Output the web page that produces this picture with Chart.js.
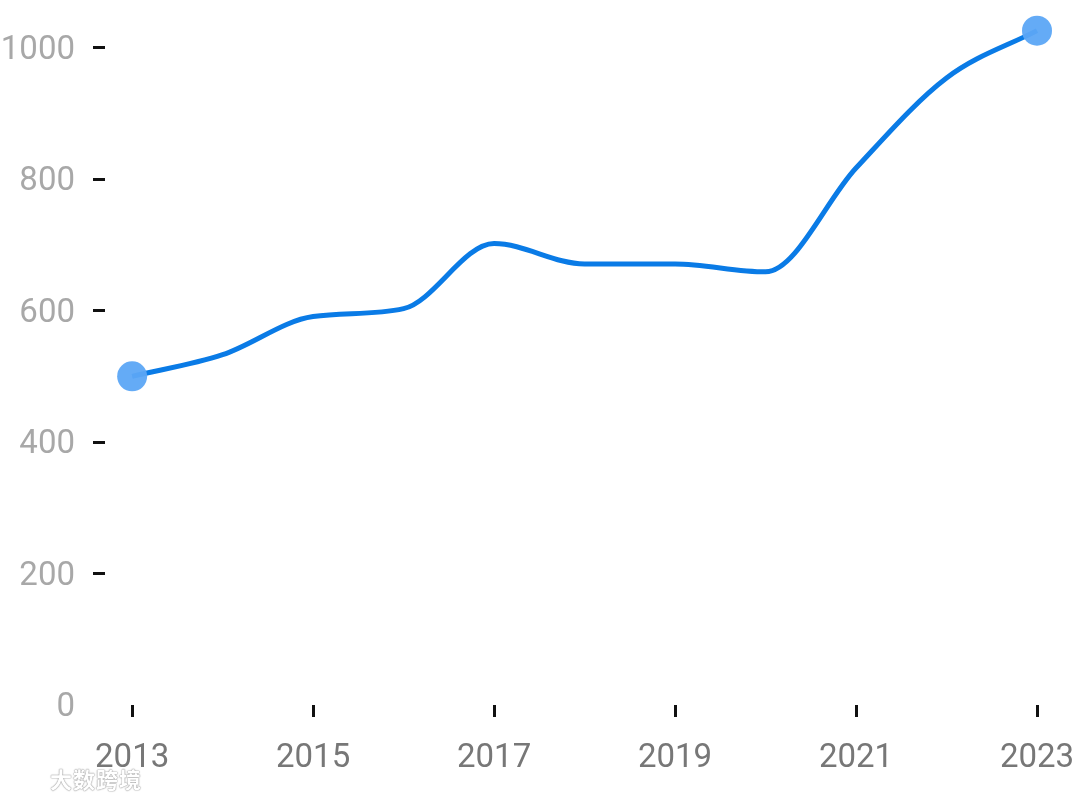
<!DOCTYPE html>
<html>
<head>
<meta charset="utf-8">
<script src="https://cdn.jsdelivr.net/npm/chart.js@4/dist/chart.umd.min.js"></script>
<style>
  html, body { margin: 0; padding: 0; background: #fff; }
  #wrap { position: relative; width: 1080px; height: 801px; }
  #mark {
    position: absolute; left: 50px; top: 762px;
    font-family: "Noto Sans CJK SC", sans-serif; font-size: 22px; font-weight: bold;
    color: #fff; letter-spacing: 1px;
    text-shadow: 0 0 1px #999, 0 0 1px #999, 0 0 2px #bbb;
  }
</style>
</head>
<body>
<div id="wrap">
  <canvas id="chart" width="1080" height="801"></canvas>
  <div id="mark">大数跨境</div>
</div>
<script>
var years = [2013, 2014, 2015, 2016, 2017, 2018, 2019, 2020, 2021, 2022, 2023];
var values = [500, 533, 591, 603, 702, 671, 671, 659, 817, 954, 1026];
var xTicks = [2013, 2015, 2017, 2019, 2021, 2023];
var yTicks = [0, 200, 400, 600, 800, 1000];

var points = [];
for (var i = 0; i < years.length; i++) {
    points.push({x: years[i], y: values[i]});
}
// only the first and last point get a dot
var radii = years.map(function(y, i) {
    return (i === 0 || i === years.length - 1) ? 15 : 0;
});

var ctx = document.getElementById("chart").getContext("2d");
var chart = new Chart(ctx, {
    type: 'line',
    data: {
        datasets: [{
            data: points,
            borderColor: '#0a7be6',
            borderWidth: 5,
            cubicInterpolationMode: 'monotone',
            fill: false,
            pointRadius: radii,
            pointBackgroundColor: 'rgba(92,166,245,0.95)',
            pointBorderWidth: 0,
            clip: false
        }]
    },
    options: {
        responsive: false,
        animation: false,
        layout: { padding: { top: 28, right: 43, bottom: 0, left: 0 } },
        plugins: { legend: { display: false }, tooltip: { enabled: false } },
        scales: {
            x: {
                type: 'linear',
                min: 2012.7,
                max: 2023,
                afterBuildTicks: function(scale) {
                    scale.ticks = xTicks.map(function(v) { return {value: v}; });
                },
                afterFit: function(scale) {
                    scale.height = 96;
                    scale.paddingLeft = 0;
                    scale.paddingRight = 0;
                },
                border: { display: false },
                grid: { drawOnChartArea: false, drawTicks: true, tickLength: 12, tickWidth: 3, tickColor: '#111' },
                ticks: {
                    padding: 22,
                    color: '#777777',
                    font: { family: 'Roboto', size: 33 },
                    callback: function(v) { return String(v); }
                }
            },
            y: {
                min: 0,
                max: 1030,
                afterBuildTicks: function(scale) {
                    scale.ticks = yTicks.map(function(v) { return {value: v}; });
                },
                afterFit: function(scale) {
                    scale.width = 105;
                    scale.paddingTop = 0;
                    scale.paddingBottom = 0;
                },
                border: { display: false },
                grid: {
                    drawOnChartArea: false, drawTicks: true, tickLength: 12, tickWidth: 3,
                    tickColor: function(c) { return c.tick && c.tick.value === 0 ? 'rgba(0,0,0,0)' : '#111'; }
                },
                ticks: {
                    padding: 18,
                    labelOffset: 3,
                    color: '#a8a8a8',
                    font: { family: 'Roboto', size: 33 },
                    callback: function(v) { return String(v); }
                }
            }
        }
    }
});
</script>
</body>
</html>
